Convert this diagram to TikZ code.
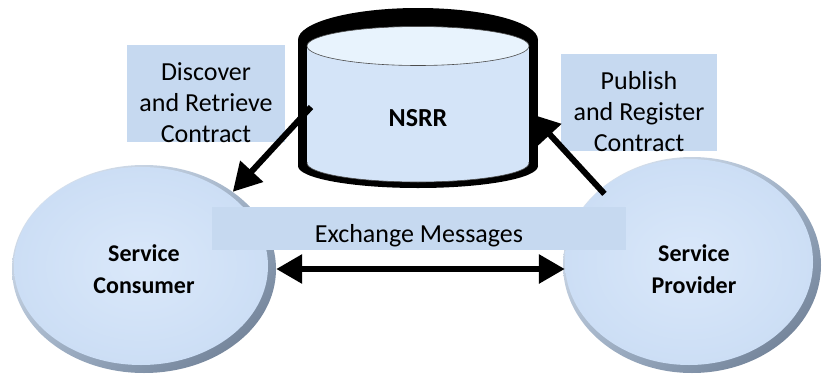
\documentclass[tikz,border=0pt]{standalone}
\usepackage{fontspec}
\setmainfont{Carlito}
\usetikzlibrary{arrows.meta,shapes.geometric,shadings}
\definecolor{lbl}{RGB}{198,217,240}
\definecolor{fillb}{RGB}{212,228,248}
\definecolor{topb}{RGB}{232,243,253}
\definecolor{inhi}{RGB}{218,232,250}
\definecolor{inlo}{RGB}{204,222,245}
\definecolor{rimhi}{RGB}{236,243,252}
\definecolor{rimmid}{RGB}{160,178,200}
\definecolor{rimlo}{RGB}{100,116,138}
\begin{document}
\begin{tikzpicture}[x=1pt,y=-1pt,
  every node/.style={inner sep=0pt},
  lab/.style={align=center,font=\fontsize{26}{31}\selectfont},
  ent/.style={ellipse,align=center,font=\fontsize{24}{32}\selectfont\bfseries},
  big/.style={line width=6pt,-{Triangle[length=28pt,width=30pt]}},
  dbl/.style={line width=6pt,{Triangle[length=26pt,width=28pt]}-{Triangle[length=26pt,width=28pt]}}]
\useasboundingbox (0,0) rectangle (825,375);
% --- cylinder NSRR ---
\fill[black] (298,40) rectangle (538,166);
\fill[black] (418,40) ellipse (120 and 32);
\fill[black] (418,166) ellipse (120 and 22);
\fill[fillb] (307,46) rectangle (529,163);
\filldraw[fill=fillb,draw=black!70,line width=0.6pt] (418,163) ellipse (111 and 19);
\fill[fillb] (307,46) rectangle (529,162);
\filldraw[fill=topb,draw=black!70,line width=0.6pt] (418,46) ellipse (111 and 19.5);
\node[font=\fontsize{26}{30}\selectfont\bfseries] (nsrr) at (418,118) {NSRR};
\coordinate (cylL) at (311,107);
\coordinate (cylR) at (531,114);
% --- Service Consumer ---
\shade[upper left=rimhi,upper right=rimmid,lower left=rimmid,lower right=rimlo] (144,269) ellipse (132 and 104);
\shade[inner color=inhi,outer color=inlo] (141,266) ellipse (127 and 99);
\node[ent,minimum width=264pt,minimum height=208pt] (cons) at (144,269) {Service\\Consumer};
% --- Service Provider ---
\shade[upper left=rimhi,upper right=rimmid,lower left=rimmid,lower right=rimlo] (692,265) ellipse (129 and 108);
\shade[inner color=inhi,outer color=inlo] (689,262) ellipse (124 and 103);
\node[ent,minimum width=258pt,minimum height=208pt] (prov) at (694,269) {Service\\Provider};
% --- label boxes ---
\fill[lbl] (127,45) rectangle (285,142);
\node[lab] (disc) at (206,103) {Discover\\and Retrieve\\Contract};
\fill[lbl] (561,54) rectangle (717,151);
\node[lab] (publ) at (639,112) {Publish\\and Register\\Contract};
\fill[lbl] (212,207) rectangle (626,250);
\node[lab] (exch) at (419,236) {Exchange Messages};
% --- connectors ---
\draw[big] (prov.140) -- (cylR);
\draw[big] (cylL) -- (cons.41);
\draw[dbl] (cons.east) -- (cons.east -| prov.west);
\end{tikzpicture}
\end{document}
